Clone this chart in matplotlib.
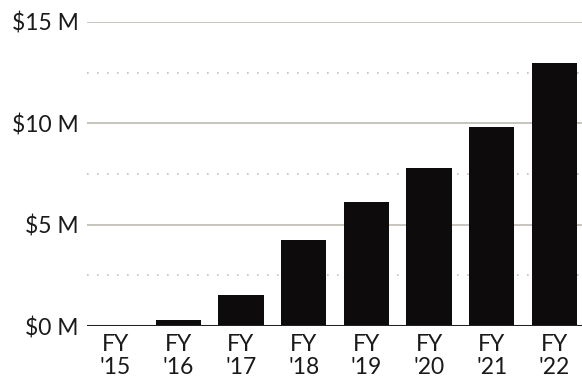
import matplotlib
matplotlib.use("Agg")
import matplotlib.pyplot as plt
import numpy as np

years = ["'15", "'16", "'17", "'18", "'19", "'20", "'21", "'22"]
revenue = [0.02, 0.3, 1.53, 4.26, 6.14, 7.82, 9.8, 13.0]  # $ millions
major_ticks = [0, 5, 10, 15]
minor_ticks = [2.5, 7.5, 12.5]

plt.rcParams["font.family"] = ["Lato", "DejaVu Sans"]

fig = plt.figure(figsize=(5.82, 3.85), dpi=100)
ax = fig.add_axes([87 / 582, 1 - 326 / 385, 495 / 582, 304 / 385])

x = np.arange(len(years))
ax.bar(x, revenue, width=0.72, color="#0d0b0b", zorder=3)

for t in major_ticks[1:]:
    ax.axhline(t, color="#c4c0ba", lw=1.3, zorder=1)
for t in minor_ticks:
    ax.axhline(t, color="#c4c0ba", lw=1.2, ls=(0, (1, 5)), zorder=1)
ax.axhline(0, color="#222222", lw=2.2, zorder=4)

ax.set_xlim(-0.456, 7.44)
ax.set_ylim(0, 15)
ax.set_yticks(major_ticks)
ax.set_yticklabels([f"${t} M" for t in major_ticks], fontsize=16.5, color="#1a1a1a")
ax.set_xticks(x)
ax.set_xticklabels([f"FY\n{y}" for y in years], fontsize=16.5, color="#1a1a1a",
                   linespacing=1.08)
ax.tick_params(axis="both", length=0)
ax.tick_params(axis="y", pad=6)
ax.tick_params(axis="x", pad=6)
for s in ax.spines.values():
    s.set_visible(False)

fig.savefig("out.png", dpi=100)
